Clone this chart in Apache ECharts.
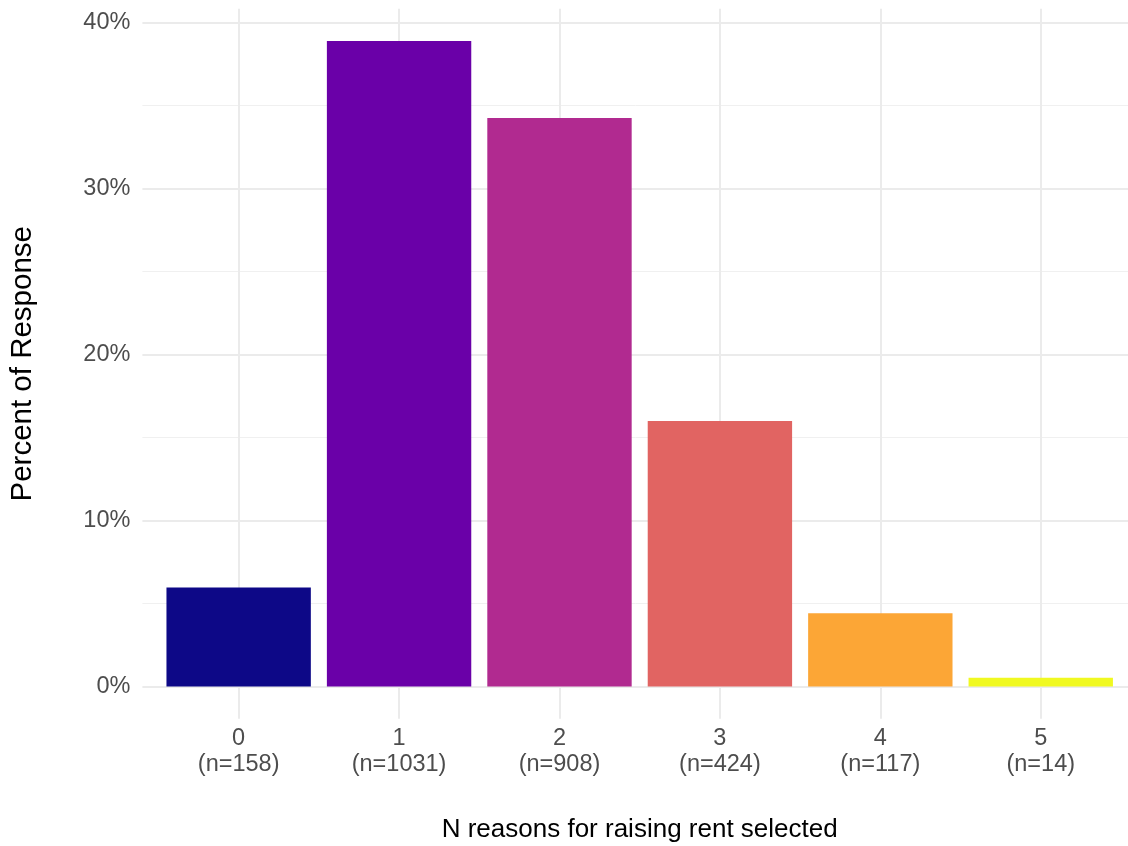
<!DOCTYPE html>
<html>
<head>
<meta charset="utf-8">
<script src="https://cdn.jsdelivr.net/npm/echarts@6/dist/echarts.min.js"></script>
<style>
html,body{margin:0;padding:0;background:#fff;overflow:hidden;}
#chart{width:1128px;height:846px;}
</style>
</head>
<body>
<div id="chart"></div>
<script>
const categories = ['0', '1', '2', '3', '4', '5'];
const counts = [158, 1031, 908, 424, 117, 14];
const percents = [5.96, 38.88, 34.24, 15.99, 4.41, 0.53];
const barColors = ['#0D0887', '#6A00A8', '#B12A90', '#E16462', '#FCA636', '#F0F921'];
const xTitle = 'N reasons for raising rent selected';
const yTitle = 'Percent of Response';

const yPad = 0.05 * Math.max(...percents);
const fontFam = '"Liberation Sans", Arial, sans-serif';

const chart = echarts.init(document.getElementById('chart'), null, {renderer: 'canvas'});
chart.setOption({
  animation: false,
  backgroundColor: '#ffffff',
  grid: {left: 142.4, width: 994.6, top: 8.7, bottom: 127.2, containLabel: false, outerBoundsMode: 'none'},
  xAxis: {
    type: 'value',
    min: -0.6,
    max: categories.length - 1 + 0.6,
    axisLine: {show: false},
    axisTick: {show: false},
    splitLine: {show: true, showMinLine: false, showMaxLine: false, lineStyle: {color: '#EBEBEB', width: 2}},
    axisLabel: {
      showMinLabel: false, showMaxLabel: false,
      margin: 7,
      color: '#4D4D4D',
      fontFamily: fontFam,
      fontSize: 23.5,
      lineHeight: 26,
      formatter: function (v) {
        if (Math.abs(v - Math.round(v)) > 1e-9) return '';
        const i = Math.round(v);
        if (i < 0 || i >= categories.length) return '';
        return categories[i] + '\n(n=' + counts[i] + ')';
      }
    },
    name: xTitle,
    nameLocation: 'middle',
    nameGap: 98,
    nameTextStyle: {color: '#000000', fontFamily: fontFam, fontSize: 26}
  },
  yAxis: {
    type: 'value',
    min: -yPad,
    max: Math.max(...percents) + yPad,
    axisLine: {show: false},
    axisTick: {show: false},
    splitLine: {show: true, showMinLine: false, showMaxLine: false, lineStyle: {color: '#EBEBEB', width: 2}},
    minorTick: {show: false, splitNumber: 2},
    minorSplitLine: {show: true, lineStyle: {color: '#F0F0F0', width: 1}},
    axisLabel: {
      showMinLabel: false, showMaxLabel: false,
      margin: 12,
      color: '#4D4D4D',
      fontFamily: fontFam,
      fontSize: 23.5,
      formatter: function (v) {
        if (Math.abs(v / 10 - Math.round(v / 10)) > 1e-9) return '';
        return Math.round(v) + '%';
      }
    },
    name: yTitle,
    nameLocation: 'middle',
    nameGap: 105,
    nameRotate: 90,
    nameTextStyle: {color: '#000000', fontFamily: fontFam, fontSize: 29.5}
  },
  series: [{
    type: 'bar',
    barWidth: '90%',
    data: percents.map((p, i) => ({value: [i, p], itemStyle: {color: barColors[i]}}))
  }]
});
</script>
</body>
</html>
